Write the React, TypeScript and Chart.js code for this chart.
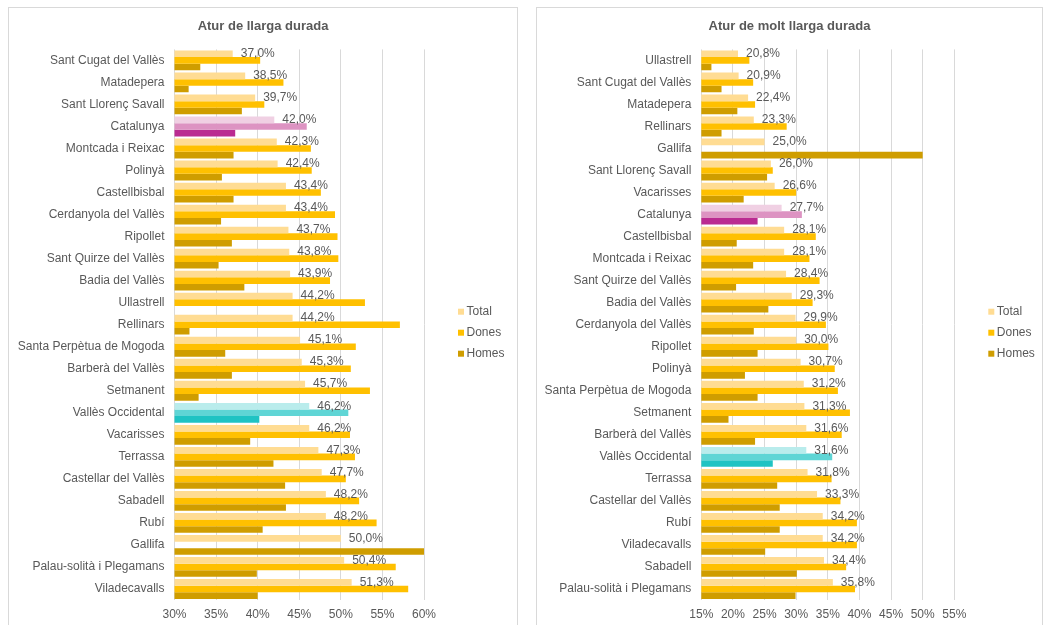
import React, { useEffect, useRef } from "react";
import { Chart, registerables, layouts } from "chart.js";

Chart.register(...registerables);

// ---------- Data: Atur de llarga durada ----------
const llargaCategories = [
  "Sant Cugat del Vallès", "Matadepera", "Sant Llorenç Savall", "Catalunya", "Montcada i Reixac",
  "Polinyà", "Castellbisbal", "Cerdanyola del Vallès", "Ripollet", "Sant Quirze del Vallès",
  "Badia del Vallès", "Ullastrell", "Rellinars", "Santa Perpètua de Mogoda", "Barberà del Vallès",
  "Setmanent", "Vallès Occidental", "Vacarisses", "Terrassa", "Castellar del Vallès",
  "Sabadell", "Rubí", "Gallifa", "Palau-solità i Plegamans", "Viladecavalls",
];
const llargaTotal = [37.0, 38.5, 39.7, 42.0, 42.3, 42.4, 43.4, 43.4, 43.7, 43.8, 43.9, 44.2, 44.2, 45.1, 45.3, 45.7, 46.2, 46.2, 47.3, 47.7, 48.2, 48.2, 50.0, 50.4, 51.3];
const llargaDones = [40.3, 43.1, 40.8, 45.9, 46.4, 46.5, 47.6, 49.3, 49.6, 49.7, 48.7, 52.9, 57.1, 51.8, 51.2, 53.5, 50.9, 51.1, 51.7, 50.6, 52.2, 54.3, null, 56.6, 58.1];
const llargaHomes = [33.1, 31.7, 38.1, 37.3, 37.1, 35.7, 37.1, 35.6, 36.9, 35.3, 38.4, null, 31.8, 36.1, 36.9, 32.9, 40.2, 39.1, 41.9, 43.3, 43.4, 40.6, 60.0, 39.9, 40.0];

// ---------- Data: Atur de molt llarga durada ----------
const moltCategories = [
  "Ullastrell", "Sant Cugat del Vallès", "Matadepera", "Rellinars", "Gallifa",
  "Sant Llorenç Savall", "Vacarisses", "Catalunya", "Castellbisbal", "Montcada i Reixac",
  "Sant Quirze del Vallès", "Badia del Vallès", "Cerdanyola del Vallès", "Ripollet", "Polinyà",
  "Santa Perpètua de Mogoda", "Setmanent", "Barberà del Vallès", "Vallès Occidental", "Terrassa",
  "Castellar del Vallès", "Rubí", "Viladecavalls", "Sabadell", "Palau-solità i Plegamans",
];
const moltTotal = [20.8, 20.9, 22.4, 23.3, 25.0, 26.0, 26.6, 27.7, 28.1, 28.1, 28.4, 29.3, 29.9, 30.0, 30.7, 31.2, 31.3, 31.6, 31.6, 31.8, 33.3, 34.2, 34.2, 34.4, 35.8];
const moltDones = [22.6, 23.2, 23.5, 28.5, null, 26.3, 30.0, 30.9, 33.1, 32.1, 33.7, 32.6, 34.7, 35.1, 36.1, 36.6, 38.5, 37.2, 35.7, 35.6, 37.0, 39.6, 39.6, 37.9, 39.3];
const moltHomes = [16.6, 18.2, 20.7, 18.2, 50.0, 25.4, 21.7, 23.9, 20.6, 23.2, 20.5, 25.6, 23.3, 23.9, 21.9, 23.9, 19.3, 23.5, 26.3, 27.0, 27.4, 27.4, 25.1, 30.1, 29.9];

const seriesNames = ["Total", "Dones", "Homes"];

// ---------- Styles ----------
const baseColors = ["#FFDC93", "#FFC000", "#CF9D00"];
const catalunyaColors = ["#F0D0E3", "#DD93C2", "#BA2B91"];
const vallesColors = ["#B9ECEC", "#5FD5D5", "#1FC3C3"];
const textColor = "#595959";
const gridColor = "#D9D9D9";
const FONT = "'Liberation Sans', Arial, sans-serif";

function colorsFor(categories: string[], idx: number) {
  return categories.map((c) =>
    c === "Catalunya" ? catalunyaColors[idx] : c === "Vallès Occidental" ? vallesColors[idx] : baseColors[idx]
  );
}

const valueLabelPlugin = {
  id: "valueLabels",
  afterDatasetsDraw(chart: any) {
    const ctx = chart.ctx;
    const meta = chart.getDatasetMeta(0);
    const data = chart.data.datasets[0].data;
    ctx.save();
    ctx.font = `12px ${FONT}`;
    ctx.fillStyle = textColor;
    ctx.textAlign = "left";
    ctx.textBaseline = "middle";
    meta.data.forEach((bar: any, i: number) => {
      const v = data[i];
      if (v == null) return;
      ctx.fillText(`${v.toFixed(1).replace(".", ",")}%`, bar.x + 8, bar.y);
    });
    ctx.restore();
  },
};

const customLegendPlugin = {
  id: "customLegend",
  afterDraw(chart: any) {
    const ctx = chart.ctx;
    const area = chart.chartArea;
    const x = area.right + 34;
    const cy = (area.top + area.bottom) / 2 + 8;
    ctx.save();
    ctx.font = `12px ${FONT}`;
    ctx.textAlign = "left";
    ctx.textBaseline = "middle";
    chart.data.datasets.forEach((ds: any, i: number) => {
      const y = cy + (i - 1) * 21;
      ctx.fillStyle = baseColors[i];
      ctx.fillRect(x, y - 3, 6, 6);
      ctx.fillStyle = textColor;
      ctx.fillText(ds.label, x + 8.5, y);
    });
    ctx.restore();
  },
};

// Reserves space on the right of the plot (for the legend) without shrinking the title box.
function makeSpacerPlugin(w: number) {
  return {
    id: "rightSpacer",
    start(chart: any) {
      const box: any = {
        position: "right",
        weight: 1000,
        fullSize: false,
        options: {},
        width: w,
        height: 0,
        left: 0,
        top: 0,
        right: 0,
        bottom: 0,
        isHorizontal() {
          return false;
        },
        update(_maxW: number, maxH: number) {
          this.width = w;
          this.height = maxH;
        },
        draw() {},
        _layers() {
          return [];
        },
      };
      layouts.addBox(chart, box);
    },
  };
}

type PanelProps = {
  title: string;
  categories: string[];
  total: (number | null)[];
  dones: (number | null)[];
  homes: (number | null)[];
  min: number;
  max: number;
  left: number;
  width: number;
  yWidth: number;
  rightPad: number;
};

function BarPanel(p: PanelProps) {
  const ref = useRef<HTMLCanvasElement | null>(null);
  const canvasW = p.width - 2;
  const canvasH = 617;

  useEffect(() => {
    if (!ref.current) return;
    const series = [p.total, p.dones, p.homes];
    const chart = new Chart(ref.current, {
      type: "bar",
      data: {
        labels: p.categories,
        datasets: series.map((d, i) => ({
          label: seriesNames[i],
          data: d,
          backgroundColor: colorsFor(p.categories, i),
          borderWidth: 0,
          barPercentage: 1.0,
          categoryPercentage: 0.9,
        })),
      },
      options: {
        indexAxis: "y",
        animation: false,
        responsive: false,
        maintainAspectRatio: false,
        devicePixelRatio: 1,
        layout: { padding: 0 },
        plugins: {
          legend: { display: false },
          tooltip: { enabled: false },
          title: {
            display: true,
            text: p.title,
            color: textColor,
            font: { family: FONT, size: 13, weight: "bold" },
            padding: { top: 11, bottom: 14.8 },
          },
        },
        scales: {
          x: {
            min: p.min,
            max: p.max,
            grid: { color: gridColor, drawTicks: false, lineWidth: 1 },
            border: { display: false },
            ticks: {
              stepSize: 5,
              padding: 7,
              color: textColor,
              font: { family: FONT, size: 12 },
              callback: (v: any) => `${v}%`,
            },
            afterFit: (scale: any) => {
              scale.height = 25;
            },
          },
          y: {
            grid: { display: false, drawTicks: false },
            border: { display: false },
            ticks: {
              padding: 10,
              color: textColor,
              font: { family: FONT, size: 12 },
              autoSkip: false,
            },
            afterFit: (scale: any) => {
              scale.width = p.yWidth;
            },
          },
        },
      } as any,
      plugins: [makeSpacerPlugin(p.rightPad), valueLabelPlugin, customLegendPlugin],
    });
    return () => chart.destroy();
  }, []);

  return (
    <div
      style={{
        position: "absolute",
        left: p.left,
        top: 7,
        width: p.width,
        height: 640,
        border: `1px solid ${gridColor}`,
        boxSizing: "border-box",
        background: "#fff",
      }}
    >
      <canvas ref={ref} width={canvasW} height={canvasH} style={{ display: "block", width: canvasW, height: canvasH }} />
    </div>
  );
}

export default function App() {
  return (
    <div style={{ position: "fixed", inset: 0, overflow: "hidden", background: "#fff" }}>
      <BarPanel
        title="Atur de llarga durada"
        categories={llargaCategories}
        total={llargaTotal}
        dones={llargaDones}
        homes={llargaHomes}
        min={30}
        max={60}
        left={8}
        width={510}
        yWidth={165.5}
        rightPad={93}
      />
      <BarPanel
        title="Atur de molt llarga durada"
        categories={moltCategories}
        total={moltTotal}
        dones={moltDones}
        homes={moltHomes}
        min={15}
        max={55}
        left={536}
        width={507}
        yWidth={164.3}
        rightPad={87.7}
      />
    </div>
  );
}
